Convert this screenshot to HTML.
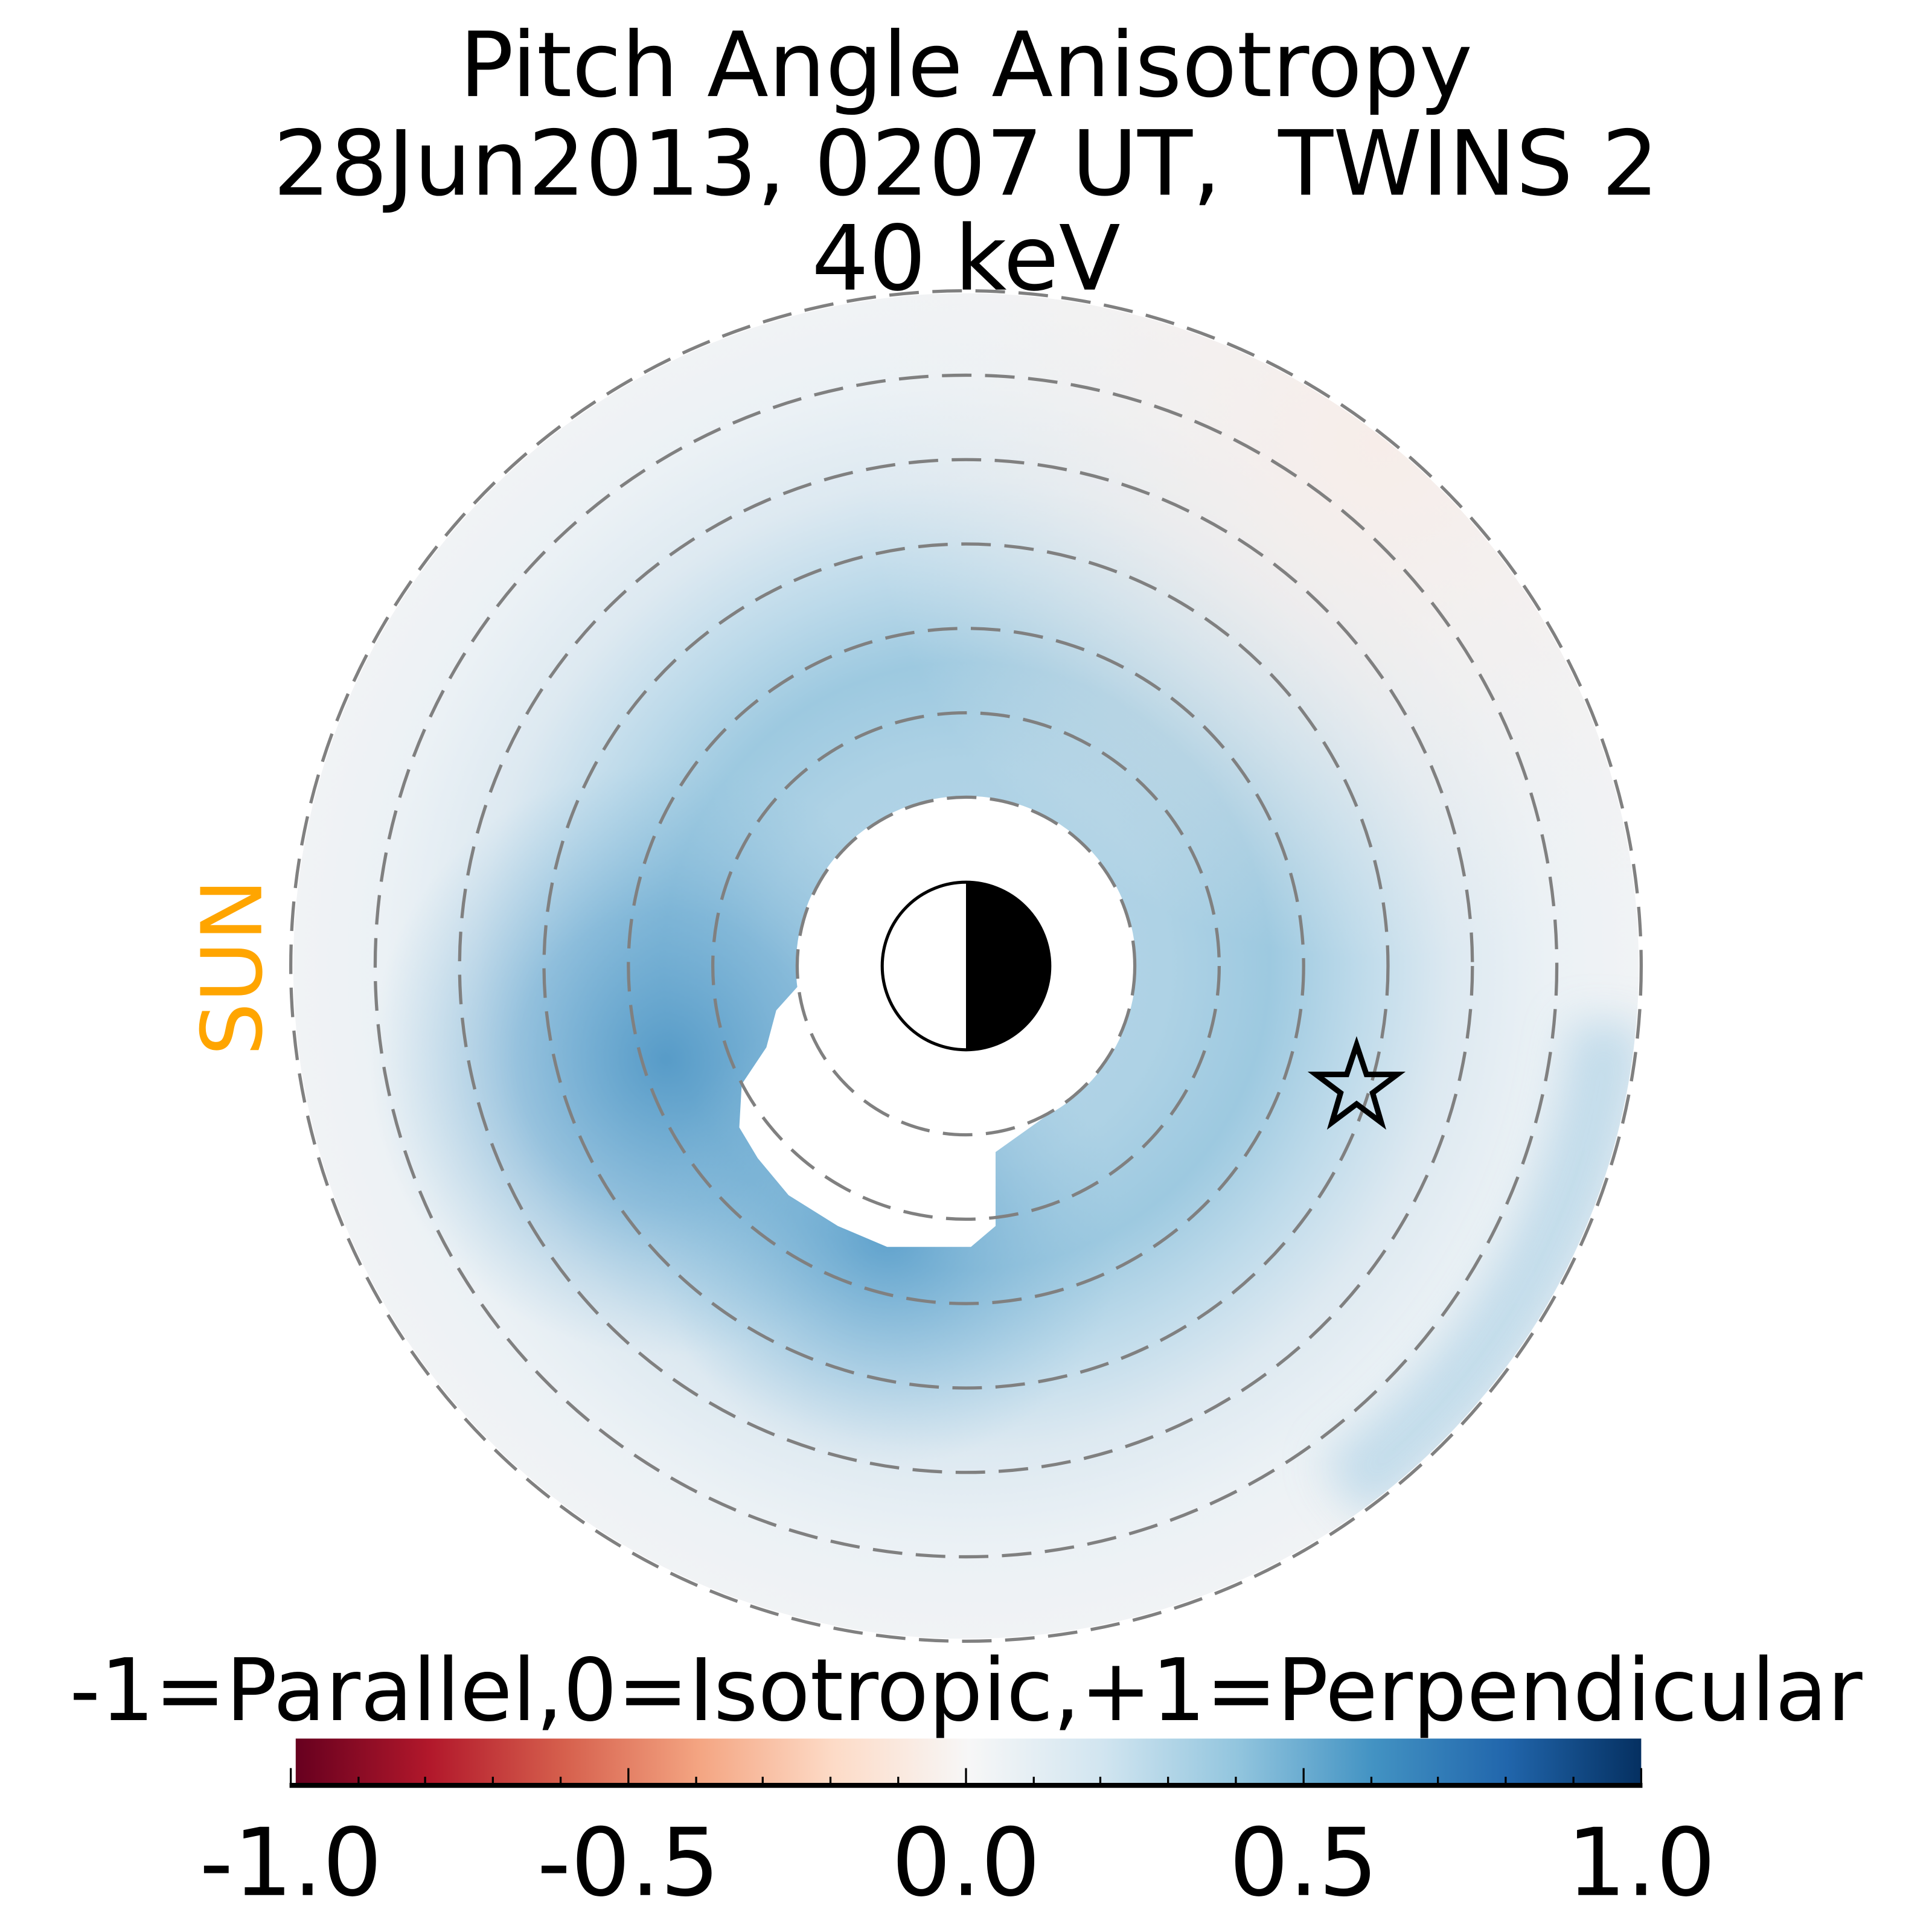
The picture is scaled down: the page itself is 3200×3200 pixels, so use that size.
<!DOCTYPE html>
<html><head><meta charset="utf-8"><style>html,body{margin:0;padding:0;background:#fff}svg{display:block}</style></head>
<body>
<svg width="3200" height="3200" viewBox="0 0 1568 1568" xmlns="http://www.w3.org/2000/svg" font-family="DejaVu Sans, Liberation Sans, sans-serif">
<defs>
<radialGradient id="ring" cx="784" cy="784" r="548" gradientUnits="userSpaceOnUse">
<stop offset="0" stop-color="#b5d6e8"/>
<stop offset="0.3" stop-color="#aed2e5"/>
<stop offset="0.45" stop-color="#9dc9e0"/>
<stop offset="0.58" stop-color="#bddaea"/>
<stop offset="0.72" stop-color="#dde9f1"/>
<stop offset="0.86" stop-color="#ebf1f5"/>
<stop offset="1" stop-color="#f1f3f5"/>
</radialGradient>
<radialGradient id="ll" cx="540" cy="860" r="240" gradientUnits="userSpaceOnUse">
<stop offset="0" stop-color="#4f96c5" stop-opacity="0.9"/>
<stop offset="0.5" stop-color="#64a5cf" stop-opacity="0.55"/>
<stop offset="1" stop-color="#8fc0dd" stop-opacity="0"/>
</radialGradient>
<radialGradient id="bot" cx="720" cy="1000" r="190" gradientUnits="userSpaceOnUse">
<stop offset="0" stop-color="#5299c8" stop-opacity="0.85"/>
<stop offset="1" stop-color="#8fc0dd" stop-opacity="0"/>
</radialGradient>
<radialGradient id="pink" cx="1120" cy="360" r="420" gradientUnits="userSpaceOnUse">
<stop offset="0" stop-color="#f7ede9"/>
<stop offset="1" stop-color="#f4f1f0" stop-opacity="0"/>
</radialGradient>
<filter id="bl" x="-50%" y="-50%" width="200%" height="200%"><feGaussianBlur stdDeviation="18"/></filter>
<clipPath id="disk"><circle cx="784" cy="784" r="546"/></clipPath>
<linearGradient id="cb" x1="0" x2="1" y1="0" y2="0">
<stop offset="0" stop-color="#67001f"/>
<stop offset="0.1" stop-color="#b2182b"/>
<stop offset="0.2" stop-color="#d6604d"/>
<stop offset="0.3" stop-color="#f4a582"/>
<stop offset="0.4" stop-color="#fddbc7"/>
<stop offset="0.5" stop-color="#f7f7f7"/>
<stop offset="0.6" stop-color="#d1e5f0"/>
<stop offset="0.7" stop-color="#92c5de"/>
<stop offset="0.8" stop-color="#4393c3"/>
<stop offset="0.9" stop-color="#2166ac"/>
<stop offset="1" stop-color="#053061"/>
</linearGradient>
</defs>
<rect width="1568" height="1568" fill="#fff"/>
<g font-size="73" text-anchor="middle" fill="#000">
<text x="784" y="78">Pitch Angle Anisotropy</text>
<text x="784" y="158" xml:space="preserve">28Jun2013, 0207 UT,  TWINS 2</text>
<text x="784" y="235">40 keV</text>
</g>
<circle cx="784" cy="784" r="546" fill="url(#ring)"/>
<circle cx="784" cy="784" r="546" fill="url(#pink)"/>
<g clip-path="url(#disk)">
<path d="M1305,830 A525,525 0 0 1 1090,1210" fill="none" stroke="#b3d4e7" stroke-width="60" opacity="0.75" filter="url(#bl)"/>
</g>
<circle cx="784" cy="784" r="546" fill="url(#ll)"/>
<circle cx="784" cy="784" r="546" fill="url(#bot)"/>
<circle cx="784" cy="784" r="138" fill="#fff"/>
<path d="M648,800 L630,820 L622,850 L602,880 L600,915 L615,940 L640,970 L680,995 L720,1012 L788,1012 L808,995 L808,935 L850,905 L880,880 L700,850 Z" fill="#fff"/>
<g fill="none" stroke="#808080" stroke-width="2.6" stroke-dasharray="24,11">
<circle cx="784" cy="784" r="137"/>
<circle cx="784" cy="784" r="205.5"/>
<circle cx="784" cy="784" r="274"/>
<circle cx="784" cy="784" r="342.5"/>
<circle cx="784" cy="784" r="411"/>
<circle cx="784" cy="784" r="479.5"/>
<circle cx="784" cy="784" r="548"/>
</g>
<path d="M784,715 A69,69 0 0 1 784,853 Z" fill="#000"/>
<circle cx="784" cy="784" r="68" fill="none" stroke="#000" stroke-width="2.5"/>
<polygon points="1101,848 1109,872 1134,872 1114,887 1121,911 1101,896 1081,911 1088,887 1068,872 1093,872" fill="none" stroke="#000" stroke-width="4.5" stroke-linejoin="miter"/>
<text transform="translate(212,785) rotate(-90)" font-size="68" fill="#ffa500" text-anchor="middle">SUN</text>
<text x="784" y="1396" font-size="70" text-anchor="middle" textLength="1455" lengthAdjust="spacingAndGlyphs">-1=Parallel,0=Isotropic,+1=Perpendicular</text>
<rect x="240" y="1411" width="1092" height="37" fill="url(#cb)"/>
<g stroke="#000" stroke-width="1.6">
<line x1="235" y1="1449" x2="1333" y2="1449" stroke-width="4"/>
<line x1="236" y1="1435" x2="236" y2="1449"/><line x1="510" y1="1435" x2="510" y2="1449"/><line x1="784" y1="1435" x2="784" y2="1449"/><line x1="1058" y1="1435" x2="1058" y2="1449"/><line x1="1332" y1="1435" x2="1332" y2="1449"/>
<line x1="291" y1="1442" x2="291" y2="1449"/><line x1="345" y1="1442" x2="345" y2="1449"/><line x1="400" y1="1442" x2="400" y2="1449"/><line x1="455" y1="1442" x2="455" y2="1449"/>
<line x1="565" y1="1442" x2="565" y2="1449"/><line x1="619" y1="1442" x2="619" y2="1449"/><line x1="674" y1="1442" x2="674" y2="1449"/><line x1="729" y1="1442" x2="729" y2="1449"/>
<line x1="839" y1="1442" x2="839" y2="1449"/><line x1="893" y1="1442" x2="893" y2="1449"/><line x1="948" y1="1442" x2="948" y2="1449"/><line x1="1003" y1="1442" x2="1003" y2="1449"/>
<line x1="1113" y1="1442" x2="1113" y2="1449"/><line x1="1167" y1="1442" x2="1167" y2="1449"/><line x1="1222" y1="1442" x2="1222" y2="1449"/><line x1="1277" y1="1442" x2="1277" y2="1449"/>
</g>
<g font-size="76" text-anchor="middle">
<text x="236" y="1538">-1.0</text>
<text x="510" y="1538">-0.5</text>
<text x="784" y="1538">0.0</text>
<text x="1058" y="1538">0.5</text>
<text x="1332" y="1538">1.0</text>
</g>
</svg>
</body></html>
